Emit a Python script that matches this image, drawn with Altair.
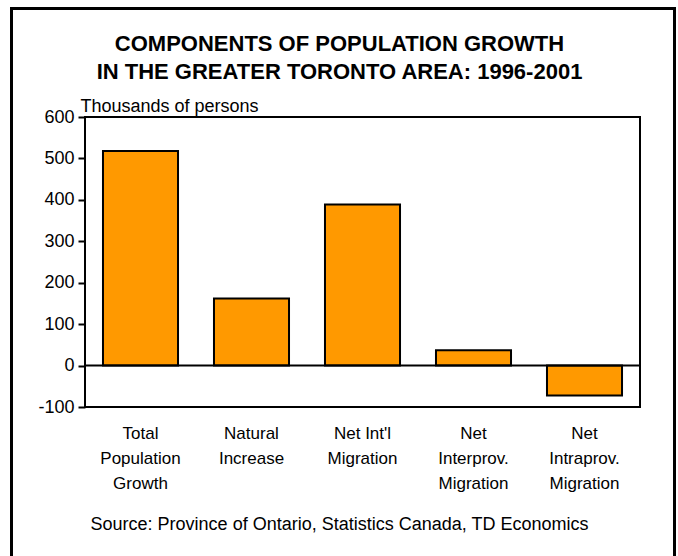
import altair as alt
import pandas as pd

categories = ["Total\nPopulation\nGrowth", "Natural\nIncrease", "Net Int'l\nMigration",
              "Net\nInterprov.\nMigration", "Net\nIntraprov.\nMigration"]
values = [518, 162, 389, 37, -72]
y_ticks = [-100, 0, 100, 200, 300, 400, 500, 600]

df = pd.DataFrame({"category": categories, "value": values})

FONT = "Liberation Sans"
W, H = 555, 290

x_enc = alt.X(
    "category:N", sort=categories,
    scale=alt.Scale(paddingInner=0.324, paddingOuter=0.162),
    axis=alt.Axis(
        title="Source: Province of Ontario, Statistics Canada, TD Economics",
        labelExpr="split(datum.label, '\\n')",
        labelAngle=0, labelFontSize=17, labelLineHeight=25, labelPadding=18,
        labelBaseline="top", labelColor="black", labelFont=FONT,
        ticks=False, domain=False,
        titleFontSize=18, titleFontWeight="normal", titleFont=FONT, titleColor="black",
        titleX=254, titleY=117, titleAlign="center", titleBaseline="middle",
    ),
)

y_enc = alt.Y(
    "value:Q",
    scale=alt.Scale(domain=[-100, 600], nice=False, zero=False),
    axis=alt.Axis(
        values=y_ticks, grid=False, domain=False,
        labelExpr="'' + datum.value",
        tickSize=7, tickColor="black", tickWidth=2,
        labelFontSize=18, labelFont=FONT, labelColor="black", labelPadding=4,
        title="Thousands of persons", titleAngle=0, titleAlign="left",
        titleBaseline="alphabetic", titleX=-5, titleY=-6,
        titleFontSize=18, titleFontWeight="normal", titleFont=FONT, titleColor="black",
    ),
)

bars = alt.Chart(df).mark_bar(color="#FF9900", stroke="black", strokeWidth=2).encode(
    x=x_enc, y=y_enc
)

zero = alt.Chart(pd.DataFrame({"z": [0]})).mark_rule(color="black", strokeWidth=2).encode(
    y=alt.Y("z:Q")
)

border = alt.Chart(pd.DataFrame({"b": [1]})).mark_rect(
    fill=None, stroke="black", strokeWidth=3
).encode(
    x=alt.value(-73.5), x2=alt.value(589.5), y=alt.value(-108.5), y2=alt.value(445)
)

chart = alt.layer(border, bars, zero).properties(
    width=W, height=H,
    background="white",
    title=alt.TitleParams(
        text=["COMPONENTS OF POPULATION GROWTH", "IN THE GREATER TORONTO AREA: 1996-2001"],
        fontSize=22, fontWeight="bold", font=FONT, color="black",
        anchor="middle", dx=-23, offset=-77, lineHeight=28,
    ),
    autosize=alt.AutoSizeParams(type="none"),
    padding={"left": 85, "top": 117, "right": 38, "bottom": 149},
).configure_view(
    stroke="black", strokeWidth=2
)

chart.save("out.html", embed_options={"renderer": "svg", "actions": False})
